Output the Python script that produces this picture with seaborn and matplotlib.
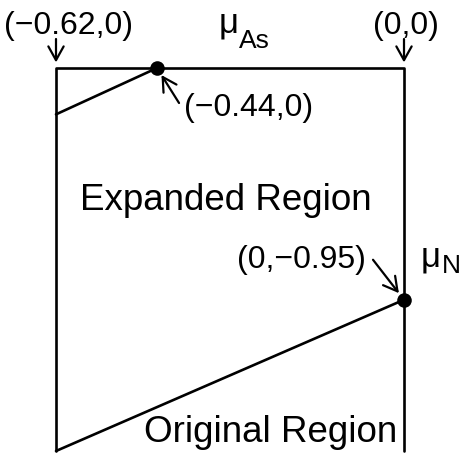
import matplotlib
matplotlib.use("Agg")
import matplotlib.pyplot as plt
import seaborn as sns
import pandas as pd

sns.set_style("white")
plt.rcParams["font.family"] = ["Liberation Sans", "DejaVu Sans"]
plt.rcParams["text.color"] = "black"

# Corners of the (mu_As, mu_N) domain
mu_as_range = [-0.62, 0.0]
mu_n_range = [-1.57, 0.0]

# Boundary points of the regions
corner_labels = ["(\u22120.62,0)", "(0,0)"]
point_x = [-0.44, 0.0]
point_y = [0.0, -0.95]
point_labels = ["(\u22120.44,0)", "(0,\u22120.95)"]
upper_left_y = -0.19      # where the expanded-region boundary meets the left edge
lower_left_y = -1.57      # where the original-region boundary meets the left edge

W, H, DPI = 463, 455, 100
fig = plt.figure(figsize=(W / DPI, H / DPI), dpi=DPI)
ax = fig.add_axes([56 / W, 4 / H, 348 / W, 383 / H])
ax.set_xlim(*mu_as_range)
ax.set_ylim(*mu_n_range)
ax.axis("off")

lw = 1.9
segments = pd.DataFrame({
    "x": [mu_as_range[0], mu_as_range[0], mu_as_range[1], mu_as_range[1],
          mu_as_range[0], point_x[0],
          mu_as_range[0], point_x[1]],
    "y": [mu_n_range[0], mu_n_range[1], mu_n_range[1], mu_n_range[0],
          upper_left_y, point_y[0],
          lower_left_y, point_y[1]],
    "seg": ["frame"] * 4 + ["upper"] * 2 + ["lower"] * 2,
})
for name, part in segments.groupby("seg", sort=False):
    sns.lineplot(data=part, x="x", y="y", sort=False, estimator=None,
                 color="black", linewidth=lw, ax=ax, legend=False,
                 clip_on=False)

sns.scatterplot(x=point_x, y=point_y, color="black", s=110, ax=ax,
                clip_on=False, zorder=5, edgecolor="black", linewidth=0)

fs = 23
arrow = dict(arrowstyle="->,head_length=0.45,head_width=0.25", color="black",
             lw=1.6, shrinkA=0, shrinkB=0, mutation_scale=22)

# Corner labels with downward arrows
for cx, lab, dx in zip(mu_as_range, corner_labels, [13, 2]):
    ax.annotate(lab, xy=(cx, 0), xytext=(dx, 42), textcoords="offset pixels",
                ha="center", va="center", fontsize=fs, annotation_clip=False)
    ax.annotate("", xy=(cx, 0), xytext=(0, 29), textcoords="offset pixels",
                arrowprops=dict(arrow, shrinkB=4), annotation_clip=False)

# Point labels with arrows to the dots
ax.annotate(point_labels[0], xy=(point_x[0], point_y[0]), xytext=(27, -40),
            textcoords="offset pixels", ha="left", va="center", fontsize=fs,
            annotation_clip=False)
ax.annotate("", xy=(point_x[0], point_y[0]), xytext=(22, -35),
            textcoords="offset pixels", arrowprops=dict(arrow, shrinkB=6),
            annotation_clip=False)
ax.annotate(point_labels[1], xy=(point_x[1], point_y[1]), xytext=(-38, 40),
            textcoords="offset pixels", ha="right", va="center", fontsize=fs,
            annotation_clip=False)
ax.annotate("", xy=(point_x[1], point_y[1]), xytext=(-31, 40),
            textcoords="offset pixels", arrowprops=dict(arrow, shrinkB=6),
            annotation_clip=False)

# Axis symbols
fig.text(229 / W, 1 - 23 / H, "\u03bc", fontsize=25, ha="center", va="center")
fig.text(254 / W, 1 - 41 / H, "As", fontsize=19, ha="center", va="center")
fig.text(431 / W, 1 - 257 / H, "\u03bc", fontsize=25, ha="center", va="center")
fig.text(451 / W, 1 - 266 / H, "N", fontsize=19, ha="center", va="center")

# Region names
fig.text(226 / W, 1 - 201 / H, "Expanded Region", fontsize=26.5,
         ha="center", va="center")
fig.text(397 / W, 1 - 433 / H, "Original Region", fontsize=26.5,
         ha="right", va="center")

fig.savefig("out.png", dpi=DPI)
